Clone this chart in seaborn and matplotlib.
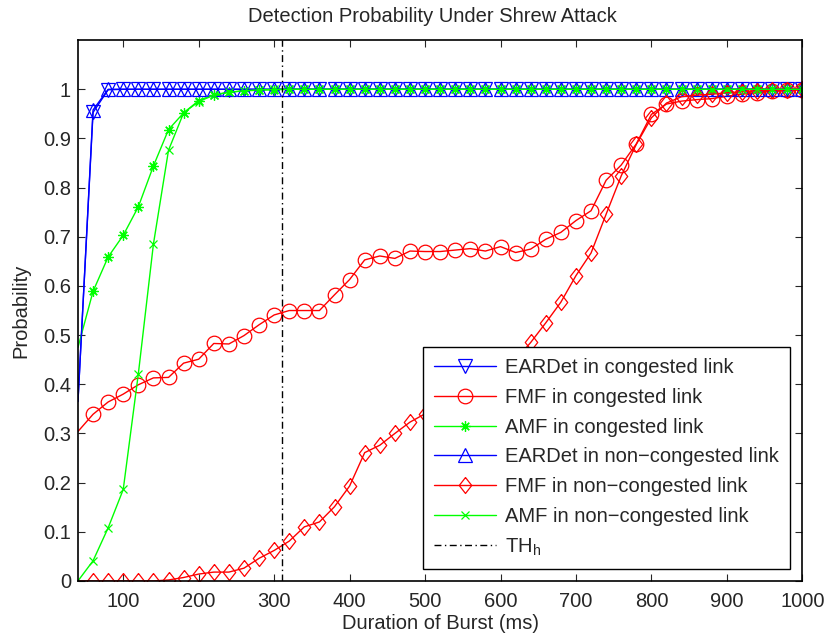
import matplotlib
matplotlib.use('Agg')
import matplotlib.pyplot as plt
import seaborn as sns
import pandas as pd
import numpy as np

# burst durations (ms); the first sample sits on the left edge and has no marker
duration = [40, 60, 80, 100, 120, 140, 160, 180, 200, 220, 240, 260, 280, 300,
            320, 340, 360, 380, 400, 420, 440, 460, 480, 500, 520, 540, 560, 580,
            600, 620, 640, 660, 680, 700, 720, 740, 760, 780, 800, 820, 840, 860,
            880, 900, 920, 940, 960, 980, 1000]

eardet_cong = [0.365, 0.953, 0.999, 1.0, 1.0, 1.0, 1.0, 1.0, 1.0, 1.0, 1.0, 1.0, 1.0, 1.0,
               1.0, 1.0, 1.0, 1.0, 1.0, 1.0, 1.0, 1.0, 1.0, 1.0, 1.0, 1.0, 1.0, 1.0,
               1.0, 1.0, 1.0, 1.0, 1.0, 1.0, 1.0, 1.0, 1.0, 1.0, 1.0, 1.0, 1.0, 1.0,
               1.0, 1.0, 1.0, 1.0, 1.0, 1.0, 1.0]
fmf_cong = [0.304, 0.339, 0.364, 0.380, 0.399, 0.413, 0.414, 0.443, 0.451, 0.483, 0.482, 0.499, 0.521, 0.541,
            0.550, 0.550, 0.550, 0.582, 0.613, 0.653, 0.661, 0.656, 0.671, 0.670, 0.670, 0.673, 0.676, 0.671,
            0.680, 0.668, 0.675, 0.695, 0.709, 0.733, 0.753, 0.815, 0.846, 0.889, 0.949, 0.970, 0.976, 0.979,
            0.981, 0.986, 0.990, 0.993, 0.996, 0.998, 0.999]
amf_cong = [0.475, 0.589, 0.659, 0.703, 0.761, 0.844, 0.918, 0.952, 0.977, 0.989, 0.994, 0.997, 0.998, 0.999,
            1.0, 1.0, 1.0, 1.0, 1.0, 1.0, 1.0, 1.0, 1.0, 1.0, 1.0, 1.0, 1.0, 1.0,
            1.0, 1.0, 1.0, 1.0, 1.0, 1.0, 1.0, 1.0, 1.0, 1.0, 1.0, 1.0, 1.0, 1.0,
            1.0, 1.0, 1.0, 1.0, 1.0, 1.0, 1.0]
eardet_noncong = [0.365, 0.958, 1.0, 1.0, 1.0, 1.0, 1.0, 1.0, 1.0, 1.0, 1.0, 1.0, 1.0, 1.0,
                  1.0, 1.0, 1.0, 1.0, 1.0, 1.0, 1.0, 1.0, 1.0, 1.0, 1.0, 1.0, 1.0, 1.0,
                  1.0, 1.0, 1.0, 1.0, 1.0, 1.0, 1.0, 1.0, 1.0, 1.0, 1.0, 1.0, 1.0, 1.0,
                  1.0, 1.0, 1.0, 1.0, 1.0, 1.0, 1.0]
fmf_noncong = [0.0, 0.0, 0.0, 0.0, 0.0, 0.0, 0.002, 0.007, 0.014, 0.018, 0.018, 0.026, 0.046, 0.062,
               0.081, 0.110, 0.120, 0.151, 0.193, 0.261, 0.276, 0.300, 0.323, 0.340, 0.355, 0.370, 0.385, 0.400,
               0.420, 0.450, 0.485, 0.525, 0.567, 0.621, 0.667, 0.746, 0.824, 0.888, 0.942, 0.972, 0.985, 0.988,
               0.990, 0.993, 0.995, 0.997, 0.998, 0.999, 1.0]
amf_noncong = [0.0, 0.041, 0.108, 0.186, 0.421, 0.685, 0.876, 0.952, 0.975, 0.988, 0.994, 0.997, 0.999, 1.0,
               1.0, 1.0, 1.0, 1.0, 1.0, 1.0, 1.0, 1.0, 1.0, 1.0, 1.0, 1.0, 1.0, 1.0,
               1.0, 1.0, 1.0, 1.0, 1.0, 1.0, 1.0, 1.0, 1.0, 1.0, 1.0, 1.0, 1.0, 1.0,
               1.0, 1.0, 1.0, 1.0, 1.0, 1.0, 1.0]
th_h = 310

# matlab style markers
asterisk = (8, 2, 0)
diamond = np.array([[0, 1], [0.78, 0], [0, -1], [-0.78, 0], [0, 1]])

series = [
    ('EARDet in congested link', eardet_cong, 'blue', 'v', 10),
    ('FMF in congested link', fmf_cong, 'red', 'o', 10.5),
    ('AMF in congested link', amf_cong, 'lime', asterisk, 7.5),
    ('EARDet in non\u2212congested link', eardet_noncong, 'blue', '^', 10),
    ('FMF in non\u2212congested link', fmf_noncong, 'red', diamond, 11.5),
    ('AMF in non\u2212congested link', amf_noncong, 'lime', 'x', 6),
]

sns.set_style('ticks')
plt.rcParams['font.family'] = ['Liberation Sans', 'DejaVu Sans']
FS = 14.5

fig = plt.figure(figsize=(8.25, 6.37), dpi=100)
ax = fig.add_axes([0.0945, 0.088, 0.878, 0.849])

for name, vals, color, mk, ms in series:
    df = pd.DataFrame({'duration': duration, 'prob': vals})
    sns.lineplot(data=df, x='duration', y='prob', ax=ax, color=color, label=name,
                 marker=mk, markersize=ms, markerfacecolor='none',
                 markeredgecolor=color, markeredgewidth=0.9, linewidth=1.0,
                 markevery=slice(1, None))

ax.axvline(th_h, color='black', linestyle=(0, (5, 2.5, 1, 2.5)), linewidth=1.0,
           label='TH$_\\mathregular{h}$')

ax.set_xlim(40, 1000)
ax.set_ylim(0, 1.1)
ax.set_xticks([100, 200, 300, 400, 500, 600, 700, 800, 900, 1000])
ax.set_yticks([0, 0.1, 0.2, 0.3, 0.4, 0.5, 0.6, 0.7, 0.8, 0.9, 1])
ax.set_yticklabels(['0', '0.1', '0.2', '0.3', '0.4', '0.5', '0.6', '0.7', '0.8', '0.9', '1'])
ax.tick_params(direction='in', top=True, right=True, labelsize=FS, length=5, width=0.8)
ax.tick_params(axis='x', pad=8)
ax.tick_params(axis='y', pad=5)
for sp in ax.spines.values():
    sp.set_color('black')
    sp.set_linewidth(1.2)

ax.set_xlabel('Duration of Burst (ms)', fontsize=FS, labelpad=2)
ax.set_ylabel('Probability', fontsize=FS, labelpad=9)
ax.set_title('Detection Probability Under Shrew Attack', fontsize=14.5, pad=13, x=0.49)

leg = ax.legend(loc='lower right', fontsize=FS, frameon=True, fancybox=False,
                edgecolor='black', framealpha=1, handlelength=3.1,
                labelspacing=0.53, borderpad=0.55, handletextpad=0.45,
                borderaxespad=0.6)
leg.get_frame().set_linewidth(1.0)
# legend lines copy markevery from the plot lines; put one marker back in the middle
for h in leg.legend_handles:
    if hasattr(h, 'set_markevery'):
        h.set_markevery([1])

fig.savefig('out.png', dpi=100)
